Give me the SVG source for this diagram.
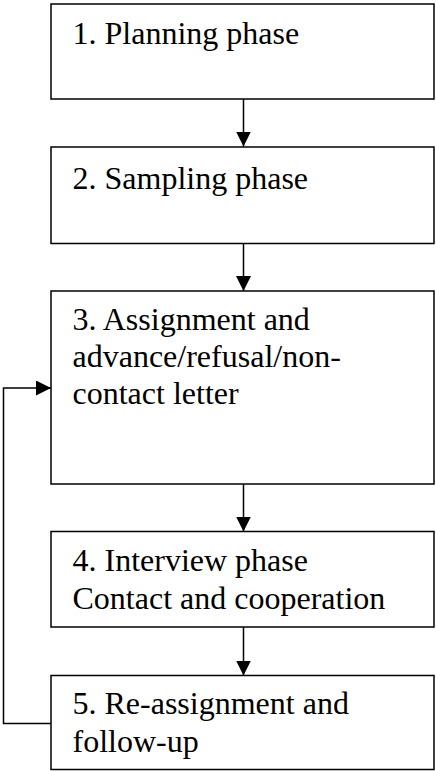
<svg xmlns="http://www.w3.org/2000/svg" width="436" height="771" viewBox="0 0 436 771">
<style>
.box{fill:#fff;stroke:#000;stroke-width:1.5}
.lbl{font-family:"Liberation Serif","Times New Roman",serif;font-size:32px;fill:#000}
.edge{fill:none;stroke:#000;stroke-width:1.5}
</style>
<defs>
<marker id="ah" viewBox="0 0 15 15" refX="15" refY="7.5" markerWidth="15" markerHeight="15" markerUnits="userSpaceOnUse" orient="auto">
<path d="M0,0 L15,7.5 L0,15 Z" fill="#000"/>
</marker>
</defs>
<g id="connectors">
<line class="edge" x1="243.5" y1="99" x2="243.5" y2="146.5" marker-end="url(#ah)"/>
<line class="edge" x1="243.5" y1="243.5" x2="243.5" y2="291" marker-end="url(#ah)"/>
<line class="edge" x1="243.5" y1="484" x2="243.5" y2="531.5" marker-end="url(#ah)"/>
<line class="edge" x1="243.5" y1="627" x2="243.5" y2="675.5" marker-end="url(#ah)"/>
<polyline class="edge" points="51,723.5 3.5,723.5 3.5,388 51,388" marker-end="url(#ah)"/>
</g>
<g id="n1">
<rect class="box" x="51" y="4" width="383" height="95"/>
<text class="lbl" x="72.5" y="44">1. Planning phase</text>
</g>
<g id="n2">
<rect class="box" x="51" y="147" width="383" height="96.5"/>
<text class="lbl" x="72.5" y="188.5">2. Sampling phase</text>
</g>
<g id="n3">
<rect class="box" x="51" y="291" width="383" height="193"/>
<text class="lbl" x="72.5" y="330">3. Assignment and</text>
<text class="lbl" x="72.5" y="367">advance/refusal/non-</text>
<text class="lbl" x="72.5" y="404">contact letter</text>
</g>
<g id="n4">
<rect class="box" x="51" y="531.5" width="383" height="95.5"/>
<text class="lbl" x="72.5" y="571">4. Interview phase</text>
<text class="lbl" x="72.5" y="608.5">Contact and cooperation</text>
</g>
<g id="n5">
<rect class="box" x="51" y="675.5" width="383" height="94"/>
<text class="lbl" x="72.5" y="713.5">5. Re-assignment and</text>
<text class="lbl" x="72.5" y="751.5">follow-up</text>
</g>
</svg>
